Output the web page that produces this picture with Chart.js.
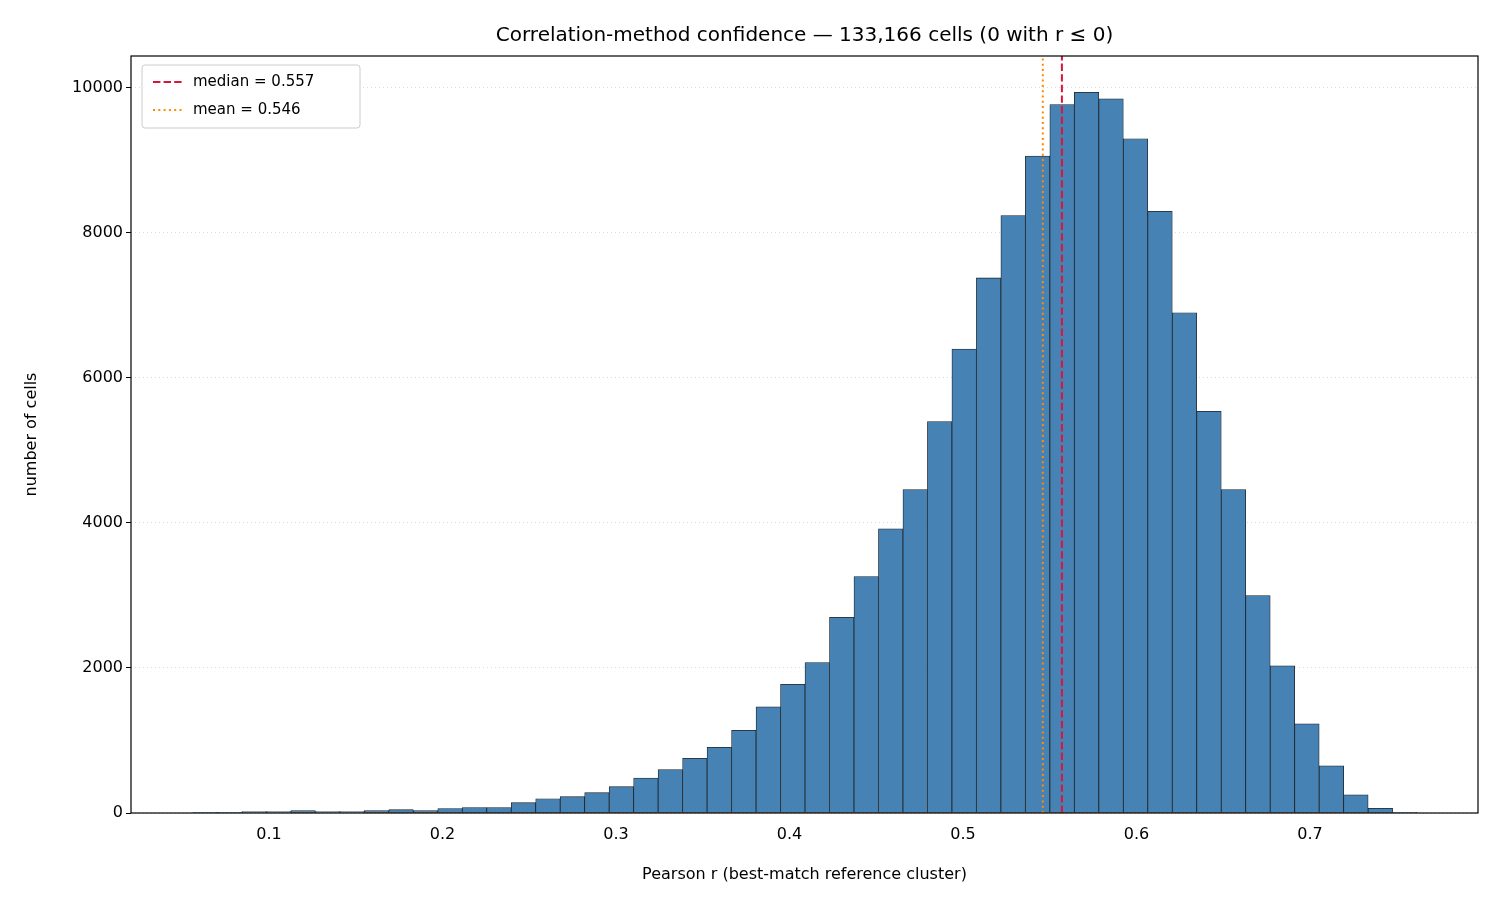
<!DOCTYPE html>
<html>
<head>
<meta charset="utf-8">
<script src="https://cdn.jsdelivr.net/npm/chart.js@4.4.1/dist/chart.umd.min.js"></script>
<style>
  body { margin: 0; background: #fff; }
  canvas { display: block; }
</style>
</head>
<body>
<canvas id="hist" width="1500" height="900"></canvas>
<script>
// histogram bins (left edge of first bin and width)
const binStart = 0.0562;
const binWidth = 0.01411;
const counts = [
    4, 5, 18, 18, 32, 18, 18, 32, 46, 32,
    60, 74, 74, 142, 197, 225, 280, 363, 483, 600,
    755, 905, 1140, 1465, 1775, 2075, 2700, 3260, 3920, 4460,
    5400, 6400, 7380, 8240, 9060, 9770, 9940, 9850, 9300, 8300,
    6900, 5540, 4460, 3000, 2030, 1230, 650, 250, 65, 3
];
const xTicks = [0.1, 0.2, 0.3, 0.4, 0.5, 0.6, 0.7];
const yTicks = [0, 2000, 4000, 6000, 8000, 10000];
const medianR = 0.557;
const meanR = 0.546;

const barData = counts.map((c, i) => ({ x: binStart + binWidth * (i + 0.5), y: c }));

const FONT = 'DejaVu Sans';

const overlayPlugin = {
    id: 'overlay',
    afterDatasetsDraw(chart) {
        const { ctx, chartArea: a, scales: { x } } = chart;
        ctx.save();
        // vertical reference lines
        const lines = [
            { v: meanR, color: '#ff8c00', dash: [2, 3.3] },
            { v: medianR, color: '#dc143c', dash: [7.4, 3.2] }
        ];
        lines.forEach(l => {
            const px = x.getPixelForValue(l.v);
            ctx.beginPath();
            ctx.setLineDash(l.dash);
            ctx.strokeStyle = l.color;
            ctx.lineWidth = 2;
            ctx.moveTo(px, a.bottom);
            ctx.lineTo(px, a.top);
            ctx.stroke();
        });
        ctx.setLineDash([]);
        // frame
        ctx.strokeStyle = '#000';
        ctx.lineWidth = 1.2;
        ctx.strokeRect(a.left, a.top, a.right - a.left, a.bottom - a.top);
        // legend box
        const lx = a.left + 11, ly = a.top + 9;
        ctx.fillStyle = 'rgba(255,255,255,0.85)';
        ctx.strokeStyle = '#ccc';
        ctx.lineWidth = 1;
        ctx.beginPath();
        ctx.roundRect(lx, ly, 218, 63, 3);
        ctx.fill();
        ctx.stroke();
        const entries = [
            { text: 'median = 0.557', color: '#dc143c', dash: [7.4, 3.2] },
            { text: 'mean = 0.546', color: '#ff8c00', dash: [2, 3.3] }
        ];
        ctx.font = `15px ${FONT}`;
        ctx.textBaseline = 'middle';
        entries.forEach((e, i) => {
            const yy = ly + 17 + i * 28;
            ctx.beginPath();
            ctx.setLineDash(e.dash);
            ctx.strokeStyle = e.color;
            ctx.lineWidth = 2;
            ctx.moveTo(lx + 11, yy);
            ctx.lineTo(lx + 40, yy);
            ctx.stroke();
            ctx.setLineDash([]);
            ctx.fillStyle = '#000';
            ctx.fillText(e.text, lx + 51, yy);
        });
        // title
        ctx.font = `20px ${FONT}`;
        ctx.textAlign = 'center';
        ctx.textBaseline = 'middle';
        ctx.fillText('Correlation-method confidence \u2014 133,166 cells (0 with r \u2264 0)', (a.left + a.right) / 2, 36);
        ctx.restore();
    }
};

new Chart(document.getElementById('hist').getContext('2d'), {
    type: 'bar',
    data: {
        datasets: [{
            data: barData,
            backgroundColor: '#4682b4',
            borderColor: '#1e2328',
            borderWidth: 0.8,
            barPercentage: 1,
            categoryPercentage: 1,
            borderSkipped: false
        }]
    },
    options: {
        responsive: false,
        animation: false,
        layout: { padding: { top: 56, right: 22, left: 0, bottom: 0 } },
        plugins: { legend: { display: false }, tooltip: { enabled: false } },
        scales: {
            x: {
                type: 'linear',
                offset: false,
                min: 0.0205,
                max: 0.7968,
                afterBuildTicks: s => { s.ticks = xTicks.map(v => ({ value: v })); },
                afterFit: s => { s.height = 87; },
                grid: { display: false, drawTicks: true, offset: false },
                border: { display: false },
                ticks: { color: '#000', font: { family: FONT, size: 16 }, padding: 4, callback: v => v.toFixed(1) },
                title: { display: true, text: 'Pearson r (best-match reference cluster)', color: '#000', font: { family: FONT, size: 16 }, padding: { top: 4, bottom: 16 } }
            },
            y: {
                min: 0,
                max: 10441,
                afterBuildTicks: s => { s.ticks = yTicks.map(v => ({ value: v })); },
                afterFit: s => { s.width = 131; },
                grid: { color: 'rgba(0,0,0,0.15)', tickColor: '#000', tickLength: 5 },
                border: { display: false, dash: [1, 3] },
                ticks: { color: '#000', font: { family: FONT, size: 16 }, callback: v => String(v) },
                title: { display: true, text: 'number of cells', color: '#000', font: { family: FONT, size: 16 }, padding: { top: 22, bottom: 0 } }
            }
        }
    },
    plugins: [overlayPlugin]
});
</script>
</body>
</html>
